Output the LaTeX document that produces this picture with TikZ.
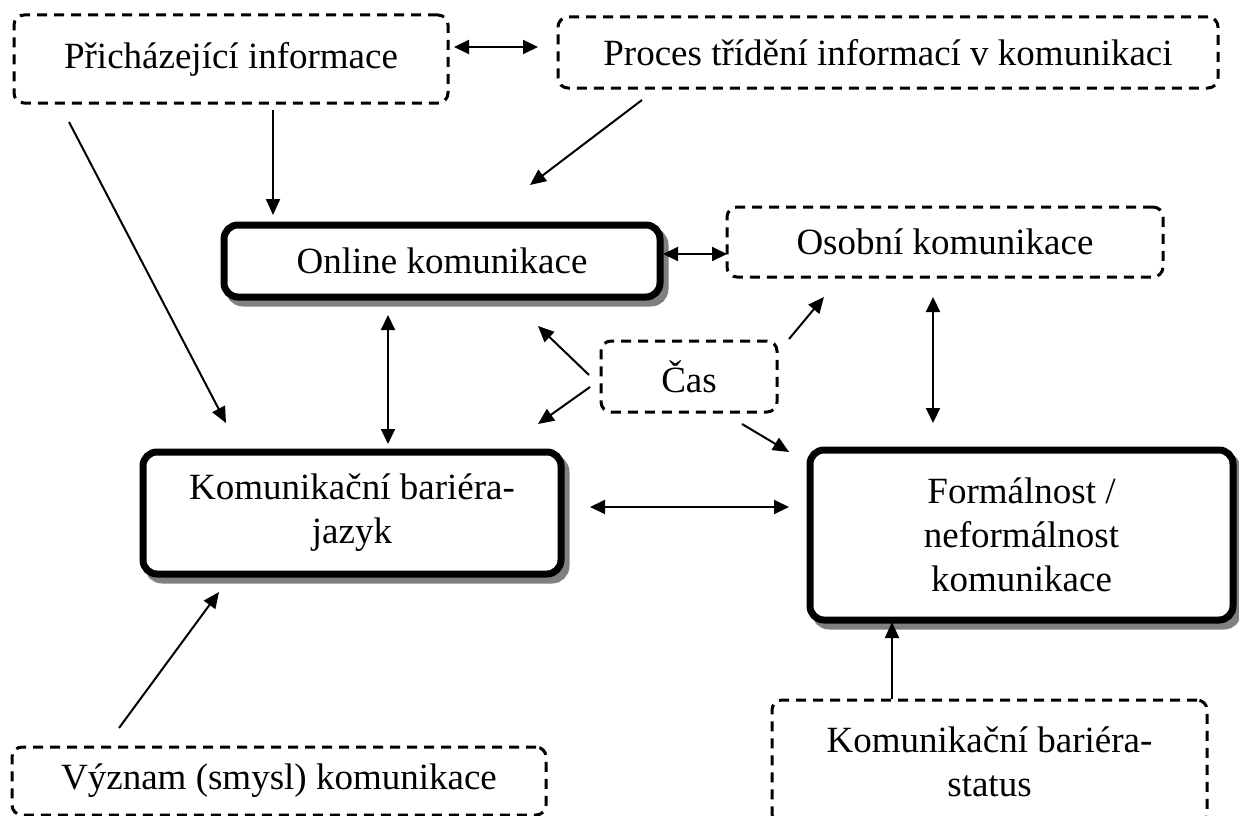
\documentclass[tikz,border=0pt]{standalone}
\usepackage{fontspec}
\setmainfont{Liberation Serif}
\usetikzlibrary{arrows.meta,shadows}
\begin{document}
\begin{tikzpicture}[x=1pt,y=-1pt,
  font=\fontsize{37}{44}\selectfont,
  dbox/.style={draw, line width=3pt, dash pattern=on 10pt off 7pt,
    rounded corners=10pt, align=center, inner sep=0pt},
  tbox/.style={draw, line width=7pt, rounded corners=14pt, fill=white,
    align=center, inner sep=0pt,
    general shadow={draw=black!50, fill=black!50, line width=7pt,
      shadow xshift=5pt, shadow yshift=-6pt}},
  link/.style={line width=2pt, -{Triangle[length=16pt,width=14pt]}},
  both/.style={line width=2pt,
    {Triangle[length=15pt,width=14pt]}-{Triangle[length=15pt,width=14pt]}},
]
\useasboundingbox (0,0) rectangle (1239,816);

% boxes
\node[dbox, minimum width=434pt, minimum height=88pt] (info) at (231,59)
  {Přicházející informace};
\node[dbox, minimum width=660pt, minimum height=71pt] (proc) at (888,52.5)
  {Proces třídění informací v komunikaci};
\node[tbox, minimum width=436pt, minimum height=72pt] (online) at (442,261)
  {Online komunikace};
\node[dbox, minimum width=436pt, minimum height=70pt] (osobni) at (945,242)
  {Osobní komunikace};
\node[dbox, minimum width=176pt, minimum height=71pt] (cas) at (689,376.5)
  {Čas};
\node[tbox, minimum width=418pt, minimum height=122pt] (jazyk) at (352,513)
  {Komunikační bariéra-\\jazyk};
\node[tbox, minimum width=423pt, minimum height=170pt] (formal) at (1021.5,535)
  {Formálnost /\\neformálnost\\komunikace};
\node[dbox, minimum width=534pt, minimum height=68pt] (vyznam) at (279,781)
  {Význam (smysl) komunikace};
\node[dbox, minimum width=435pt, minimum height=124pt] (status) at (989.5,762)
  {Komunikační bariéra-\\status};

% connectors
\draw[both] ([shift={(223,-12)}]info.center) -- ([shift={(-350,-5.5)}]proc.center);
\draw[link] ([shift={(42,51)}]info.center) -- ([shift={(-169,-46)}]online.center);
\draw[link] ([shift={(-246,47.5)}]proc.center) -- ([shift={(88,-76)}]online.center);
\draw[link] ([shift={(-162,63)}]info.center) -- ([shift={(-126,-90)}]jazyk.center);
\draw[both] ([shift={(221,-7)}]online.center) -- ([shift={(-218,12)}]osobni.center);
\draw[both] ([shift={(-54,54)}]online.center) -- ([shift={(36,-69)}]jazyk.center);
\draw[link] ([shift={(-100,-1.5)}]cas.center) -- ([shift={(96,65)}]online.center);
\draw[link] ([shift={(-99,10.5)}]cas.center) -- ([shift={(186,-89)}]jazyk.center);
\draw[link] ([shift={(100,-37.5)}]cas.center) -- ([shift={(-121,55)}]osobni.center);
\draw[link] ([shift={(53,47.5)}]cas.center) -- ([shift={(-232.5,-83)}]formal.center);
\draw[both] ([shift={(-12,55)}]osobni.center) -- ([shift={(-88.5,-112)}]formal.center);
\draw[both] ([shift={(238,-6)}]jazyk.center) -- ([shift={(-232.5,-28)}]formal.center);
\draw[link] ([shift={(-160,-53)}]vyznam.center) -- ([shift={(-133,79)}]jazyk.center);
\draw[link] ([shift={(-97.5,-63)}]status.center) -- ([shift={(-129.5,87)}]formal.center);
\end{tikzpicture}
\end{document}
